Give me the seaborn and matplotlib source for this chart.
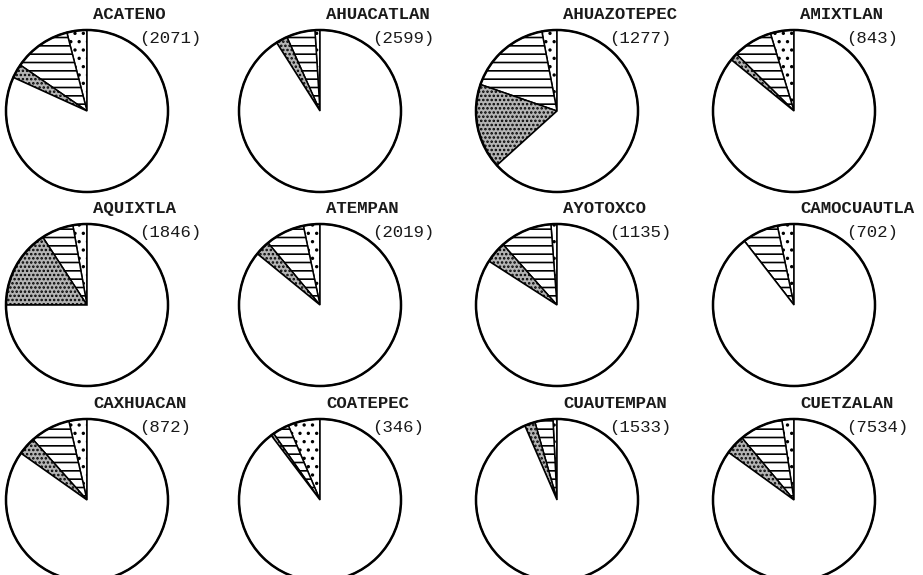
import matplotlib
matplotlib.use("Agg")
import matplotlib.pyplot as plt
import seaborn as sns

sns.set_theme(style="white")
plt.rcParams['font.family'] = ['Liberation Mono', 'DejaVu Sans Mono']
plt.rcParams['hatch.linewidth'] = 1.2

municipios = ['ACATENO', 'AHUACATLAN', 'AHUAZOTEPEC', 'AMIXTLAN',
              'AQUIXTLA', 'ATEMPAN', 'AYOTOXCO', 'CAMOCUAUTLA',
              'CAXHUACAN', 'COATEPEC', 'CUAUTEMPAN', 'CUETZALAN']
poblacion = [2071, 2599, 1277, 843, 1846, 2019, 1135, 702, 872, 346, 1533, 7534]

# porcentajes por sector
punteado = [4.0, 1.0, 3.0, 4.7, 2.8, 3.3, 1.2, 3.3, 3.6, 6.4, 0.8, 2.4]
rayado = [11.4, 5.7, 16.7, 7.9, 6.4, 7.8, 10.4, 7.2, 8.0, 3.3, 3.6, 8.7]
sombreado = [2.8, 2.3, 17.0, 1.5, 15.8, 3.0, 4.3, 0.0, 3.6, 0.6, 2.1, 3.9]
resto = [81.8, 91.0, 63.3, 85.9, 75.0, 85.9, 84.1, 89.5, 84.8, 89.7, 93.5, 85.0]

grises = sns.color_palette(['#ffffff', '#ffffff', '#b4b4b4', '#ffffff'])
tramas = ['..', '--', '....', '']

W, H = 923, 575
col_x = [87, 320, 557, 794]
row_y = [111, 305, 500]
R = 81
aw, ah = 220, 190

fig = plt.figure(figsize=(W / 100, H / 100), dpi=100)

for i, nombre in enumerate(municipios):
    cx = col_x[i % 4]
    cy = row_y[i // 4]
    ax = fig.add_axes([(cx - aw / 2) / W, (H - cy - ah / 2) / H, aw / W, ah / H])
    valores = [punteado[i], rayado[i], sombreado[i], resto[i]]
    wedges, _ = ax.pie(valores, colors=grises, startangle=90, counterclock=True,
                       wedgeprops=dict(edgecolor='black', linewidth=1.1))
    for w, t in zip(wedges, tramas):
        w.set_hatch(t)
    # borde exterior mas grueso
    ax.add_patch(plt.Circle((0, 0), 1, fill=False, edgecolor='black', linewidth=1.8))
    ax.set_xlim(-aw / 2 / R, aw / 2 / R)
    ax.set_ylim(-ah / 2 / R, ah / 2 / R)
    ax.set_aspect('equal')
    ax.axis('off')
    ax.text(0.08, 1.19, nombre, ha='left', va='center', fontsize=12.5,
            fontweight='bold', color='#1a1a1a')
    ax.text(0.64, 0.90, f'({poblacion[i]})', ha='left', va='center', fontsize=12.5,
            color='#1a1a1a')

fig.savefig('out.png', dpi=100, facecolor='white')
